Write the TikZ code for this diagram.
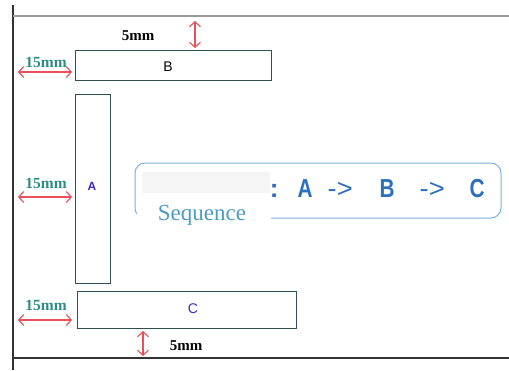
\documentclass[tikz,border=0pt]{standalone}
\usepackage{fontspec}
\setmainfont{Liberation Serif}
\setsansfont{Liberation Sans}
\usetikzlibrary{arrows.meta}
\definecolor{tealtxt}{HTML}{2E8C88}
\definecolor{redarr}{HTML}{E8505A}
\definecolor{boxline}{HTML}{2F5050}
\definecolor{seqline}{HTML}{7DB2DE}
\definecolor{seqtxt}{HTML}{2C6FBE}
\definecolor{seqword}{HTML}{4A9CC8}
\definecolor{abc}{HTML}{3A2AC8}
\tikzset{
  frame/.style={line width=1.2pt},
  blk/.style={draw=boxline, line width=1pt, fill=white, inner sep=0pt},
  dim/.style={draw=redarr, line width=1.1pt, {Straight Barb[length=5pt,width=11pt]}-{Straight Barb[length=5pt,width=11pt]}},
  mmtxt/.style={font=\fontsize{15}{15}\selectfont\bfseries, inner sep=0pt},
  fifteen/.style={font=\fontsize{15.5}{15}\selectfont\bfseries, text=tealtxt, inner sep=0pt},
  lbl/.style={font=\sffamily\fontsize{14}{14}\selectfont, inner sep=0pt},
}
\begin{document}
\begin{tikzpicture}[x=1pt,y=-1pt]
\useasboundingbox (0,0) rectangle (509,370);
\fill[white] (0,0) rectangle (509,370);
% frame lines
\coordinate (tl) at (13,5);
\coordinate (bl) at (13,370);
\coordinate (t1) at (13,16);
\coordinate (t2) at (509,16);
\coordinate (b1) at (13,358);
\coordinate (b2) at (509,358);
\draw[line width=1.4pt, black!80] (tl) -- (bl);
\draw[line width=1.2pt, black!40] (t1) -- (t2);
\draw[line width=1.2pt, black!80] (b1) -- (b2);
% blocks
\node[blk, minimum width=196pt, minimum height=30pt] (B) at (173,65) {};
\node[lbl] (Bl) at (168,67) {B};
\node[blk, minimum width=35pt, minimum height=189pt] (A) at (92.5,188.5) {};
\node[lbl, text=abc, font=\sffamily\bfseries\fontsize{12}{12}\selectfont] (Al) at (92,186) {A};
\node[blk, minimum width=219pt, minimum height=37pt] (C) at (186.5,309.5) {};
\node[lbl, text=abc] (Cl) at (193,309) {C};
% dimensions
\node[mmtxt] (m1) at (138,36) {5mm};
\coordinate (d1a) at (195,21);
\coordinate (d1b) at (195,48);
\draw[dim] (d1a) -- (d1b);
\node[mmtxt] (m2) at (186,346) {5mm};
\coordinate (d2a) at (143,331);
\coordinate (d2b) at (143,356);
\draw[dim] (d2a) -- (d2b);
\node[fifteen] (f1) at (46,62) {15mm};
\coordinate (h1a) at (18,72);
\coordinate (h1b) at (72,72);
\draw[dim] (h1a) -- (h1b);
\node[fifteen] (f2) at (46,183) {15mm};
\coordinate (h2a) at (18,197);
\coordinate (h2b) at (72,197);
\draw[dim] (h2a) -- (h2b);
\node[fifteen] (f3) at (46,305) {15mm};
\coordinate (h3a) at (18,320);
\coordinate (h3b) at (72,320);
\draw[dim] (h3a) -- (h3b);
% sequence box
\draw[draw=seqline, line width=1pt, rounded corners=10pt] (135,163) rectangle (501,218);
\fill[black!4] (142,172) rectangle (270,193);
\node[inner sep=0pt, text=seqtxt, font=\sffamily\bfseries\fontsize{26}{26}\selectfont, anchor=west] (seq) at (266,189)
  {\makebox[16pt][c]{:}\makebox[46pt][c]{\scalebox{0.8}[1]{A}}\makebox[24pt][c]{\scalebox{1.05}[1]{\mdseries->}}\makebox[70pt][c]{\scalebox{0.8}[1]{B}}\makebox[20pt][c]{\scalebox{1.05}[1]{\mdseries->}}\makebox[70pt][c]{\scalebox{0.8}[1]{C}}};
\fill[white] (137,194) rectangle (271,232);
\node[inner sep=0pt, text=seqword, font=\fontsize{23}{23}\selectfont] (sw) at (202,215) {Sequence};
\end{tikzpicture}
\end{document}
